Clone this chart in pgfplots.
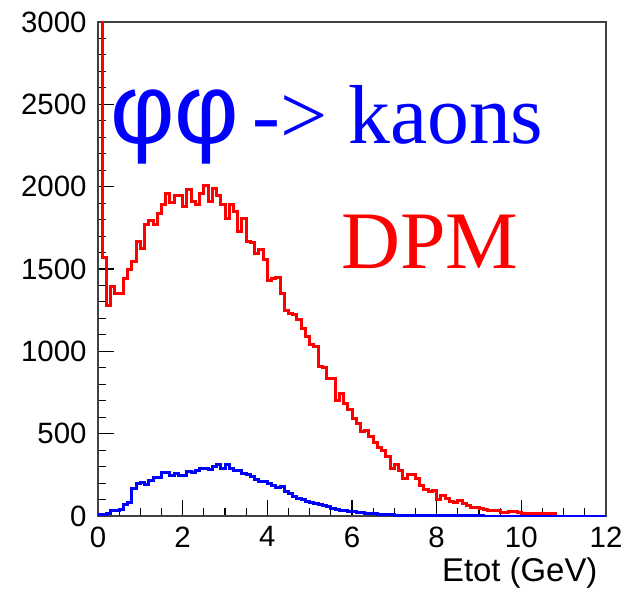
\documentclass[border=0pt]{standalone}
\usepackage{fontspec}
\setmainfont{Liberation Sans}
\newfontfamily\timesfont{Liberation Serif}
\newfontfamily\greekfont{Liberation Sans}
\usepackage{pgfplots}
\pgfplotsset{compat=1.18}
\definecolor{rootred}{RGB}{255,0,0}
\definecolor{rootblue}{RGB}{0,0,255}
\begin{document}
\begin{tikzpicture}
\useasboundingbox (-98bp,-74bp) rectangle (528bp,516bp);
\begin{axis}[
  width=508bp, height=494bp, scale only axis,
  xmin=0, xmax=12, ymin=0, ymax=3000,
  xtick={0,2,...,12}, minor x tick num=3,
  ytick={0,500,...,3000}, minor y tick num=4,
  xtick pos=left, ytick pos=left,
  tick align=inside,
  major tick length=16bp, minor tick length=8bp,
  axis line style={black!75, line width=1.3bp},
  every tick/.style={black, line width=1.1bp},
  /pgf/number format/assume math mode=true,
  /pgf/number format/set thousands separator={},
  ticklabel style={font=\fontsize{29.5}{29.5}\selectfont},
  yticklabel style={xshift=-8bp},
  xticklabel style={yshift=-7bp},
  xlabel={Etot (GeV)},
  xlabel style={at={(axis description cs:0.99,0)}, anchor=north east, font=\fontsize{33}{33}\selectfont, yshift=-38bp},
  clip=true,
]
\addplot[const plot mark left, rootred, line width=3bp] table {
x y
0.0 5000
0.1 1571
0.2 1281
0.3 1393
0.4 1352
0.5 1352
0.6 1443
0.7 1494
0.8 1544
0.9 1670
1.0 1625
1.1 1771
1.2 1793
1.3 1771
1.4 1838
1.5 1893
1.6 1959
1.7 1905
1.8 1949
1.9 1949
2.0 1879
2.1 1980
2.2 1909
2.3 1889
2.4 1959
2.5 2010
2.6 1909
2.7 1990
2.8 1949
2.9 1893
3.0 1808
3.1 1893
3.2 1848
3.3 1727
3.4 1808
3.5 1666
3.6 1660
3.7 1595
3.8 1619
3.9 1555
4.0 1433
4.1 1443
4.2 1450
4.3 1352
4.4 1251
4.5 1231
4.6 1225
4.7 1192
4.8 1140
4.9 1089
5.0 1044
5.1 1028
5.2 907
5.3 901
5.4 836
5.5 836
5.6 704
5.7 741
5.8 684
5.9 644
6.0 593
6.1 563
6.2 512
6.3 522
6.4 482
6.5 445
6.6 415
6.7 400
6.8 360
6.9 289
7.0 310
7.1 275
7.2 229
7.3 249
7.4 255
7.5 229
7.6 188
7.7 162
7.8 148
7.9 154
8.0 101
8.1 123
8.2 107
8.3 91
8.4 81
8.5 93
8.6 73
8.7 61
8.8 53
8.9 53
9.0 47
9.1 40
9.2 36
9.3 32
9.4 32
9.5 22
9.6 22
9.7 28
9.8 26
9.9 20
10.0 14
10.1 14
10.2 14
10.3 14
10.4 14
10.5 14
10.6 14
10.7 14
10.8 0
12.0 0
};
\addplot[const plot mark left, rootblue, line width=3bp] table {
x y
0.0 10
0.1 10
0.2 16
0.3 32
0.4 36
0.5 40
0.6 67
0.7 81
0.8 168
0.9 198
1.0 202
1.1 194
1.2 214
1.3 233
1.4 235
1.5 263
1.6 265
1.7 243
1.8 259
1.9 243
2.0 245
2.1 273
2.2 263
2.3 275
2.4 290
2.5 290
2.6 283
2.7 300
2.8 310
2.9 290
3.0 315
3.1 290
3.2 279
3.3 275
3.4 259
3.5 249
3.6 239
3.7 219
3.8 209
3.9 209
4.0 198
4.1 188
4.2 174
4.3 178
4.4 148
4.5 138
4.6 117
4.7 107
4.8 100
4.9 90
5.0 80
5.1 75
5.2 68
5.3 62
5.4 55
5.5 48
5.6 40
5.7 36
5.8 32
5.9 28
6.0 25
6.1 22
6.2 20
6.3 18
6.4 15
6.5 13
6.6 12
6.7 10
6.8 8
6.9 8
7.0 6
7.1 5
7.2 5
7.3 4
7.4 3
7.5 3
7.6 2
7.7 2
7.8 2
7.9 2
8.0 2
8.1 1
8.5 1
9.0 1
9.1 0
12.0 0
};
\node[anchor=base west, text=rootblue, inner sep=0pt] at (axis cs:0.28,2265)
  {{\fontsize{100}{100}\selectfont\greekfont φφ}\hspace{13bp}{\fontsize{84}{84}\selectfont\timesfont -> kaons}};
\node[anchor=base west, text=rootred, inner sep=0pt] at (axis cs:5.74,1506)
  {\fontsize{82}{82}\selectfont\timesfont DPM};
\end{axis}
\end{tikzpicture}
\end{document}
